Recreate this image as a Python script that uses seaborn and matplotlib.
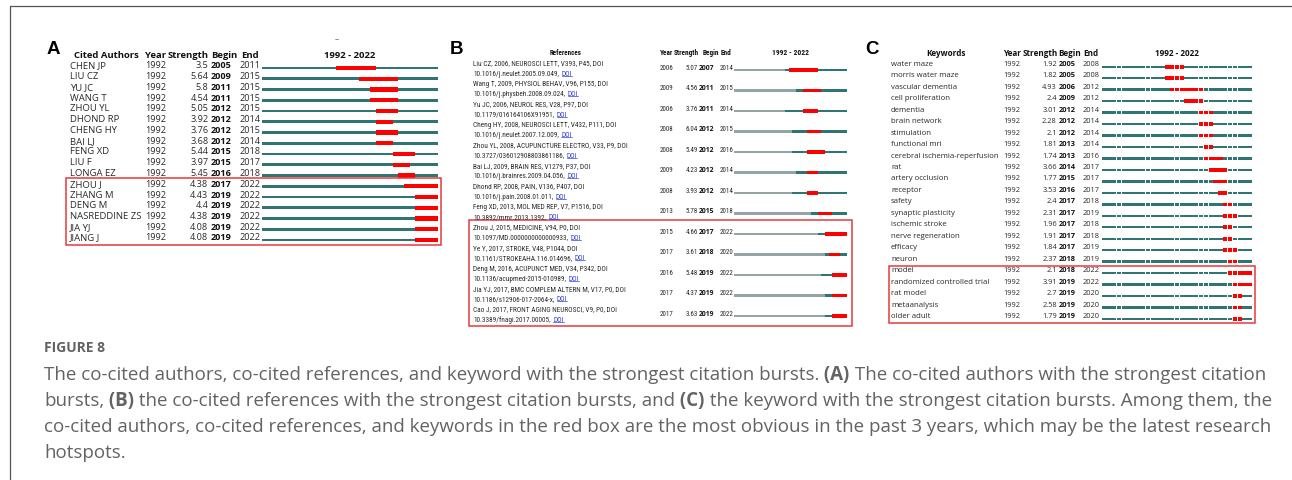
import numpy as np
import pandas as pd
import seaborn as sns
import matplotlib
matplotlib.use("Agg")
import matplotlib.pyplot as plt
from matplotlib.lines import Line2D
from matplotlib.patches import Rectangle
import matplotlib.font_manager as fm

# ---------------- data ----------------
authors = ["CHEN JP", "LIU CZ", "YU JC", "WANG T", "ZHOU YL", "DHOND RP", "CHENG HY",
           "BAI LJ", "FENG XD", "LIU F", "LONGA EZ", "ZHOU J", "ZHANG M", "DENG M",
           "NASREDDINE ZS", "JIA YJ", "JIANG J"]
a_year = [1992] * 17
a_strength = [3.5, 5.64, 5.8, 4.54, 5.05, 3.92, 3.76, 3.68, 5.44, 3.97, 5.45,
              4.38, 4.43, 4.4, 4.38, 4.08, 4.08]
a_begin = [2005, 2009, 2011, 2011, 2012, 2012, 2012, 2012, 2015, 2015, 2016,
           2017, 2019, 2019, 2019, 2019, 2019]
a_end = [2011, 2015, 2015, 2015, 2015, 2014, 2015, 2014, 2018, 2017, 2018,
         2022, 2022, 2022, 2022, 2022, 2022]

ref_line1 = ["Liu CZ, 2006, NEUROSCI LETT, V393, P45, DOI",
             "Wang T, 2009, PHYSIOL BEHAV, V96, P155, DOI",
             "Yu JC, 2006, NEUROL RES, V28, P97, DOI",
             "Cheng HY, 2008, NEUROSCI LETT, V432, P111, DOI",
             "Zhou YL, 2008, ACUPUNCTURE ELECTRO, V33, P9, DOI",
             "Bai LJ, 2009, BRAIN RES, V1279, P37, DOI",
             "Dhond RP, 2008, PAIN, V136, P407, DOI",
             "Feng XD, 2013, MOL MED REP, V7, P1516, DOI",
             "Zhou J, 2015, MEDICINE, V94, P0, DOI",
             "Ye Y, 2017, STROKE, V48, P1044, DOI",
             "Deng M, 2016, ACUPUNCT MED, V34, P342, DOI",
             "Jia YJ, 2017, BMC COMPLEM ALTERN M, V17, P0, DOI",
             "Cao J, 2017, FRONT AGING NEUROSCI, V9, P0, DOI"]
ref_line2 = ["10.1016/j.neulet.2005.09.049,",
             "10.1016/j.physbeh.2008.09.024,",
             "10.1179/016164106X91951,",
             "10.1016/j.neulet.2007.12.009,",
             "10.3727/036012908803861186,",
             "10.1016/j.brainres.2009.04.056,",
             "10.1016/j.pain.2008.01.011,",
             "10.3892/mmr.2013.1392,",
             "10.1097/MD.0000000000000933,",
             "10.1161/STROKEAHA.116.014696,",
             "10.1136/acupmed-2015-010989,",
             "10.1186/s12906-017-2064-x,",
             "10.3389/fnagi.2017.00005,"]
b_year = [2006, 2009, 2006, 2008, 2008, 2009, 2008, 2013, 2015, 2017, 2016, 2017, 2017]
b_strength = [5.07, 4.56, 3.76, 6.04, 5.49, 4.23, 3.93, 5.78, 4.66, 3.61, 5.48, 4.37, 3.63]
b_begin = [2007, 2011, 2011, 2012, 2012, 2012, 2012, 2015, 2017, 2018, 2019, 2019, 2019]
b_end = [2014, 2015, 2014, 2015, 2016, 2014, 2014, 2018, 2022, 2020, 2022, 2022, 2022]

keywords = ["water maze", "morris water maze", "vascular dementia", "cell proliferation",
            "dementia", "brain network", "stimulation", "functional mri",
            "cerebral ischemia-reperfusion", "rat", "artery occlusion", "receptor",
            "safety", "synaptic plasticity", "ischemic stroke", "nerve regeneration",
            "efficacy", "neuron", "model", "randomized controlled trial", "rat model",
            "metaanalysis", "older adult"]
c_year = [1992] * 23
c_strength = [1.92, 1.82, 4.93, 2.4, 3.01, 2.28, 2.1, 1.81, 1.74, 3.66, 1.77, 3.53,
              2.4, 2.31, 1.96, 1.91, 1.84, 2.37, 2.1, 3.91, 2.7, 2.58, 1.79]
c_begin = [2005, 2005, 2006, 2009, 2012, 2012, 2012, 2013, 2013, 2014, 2015, 2016,
           2017, 2017, 2017, 2017, 2017, 2018, 2018, 2019, 2019, 2019, 2019]
c_end = [2008, 2008, 2012, 2012, 2014, 2014, 2014, 2014, 2016, 2017, 2017, 2017,
         2018, 2019, 2018, 2018, 2019, 2019, 2022, 2022, 2020, 2020, 2020]

span_start, span_end = 1992, 2022
header_cols = ["Year", "Strength", "Begin", "End"]
span_label = "1992 - 2022"

caption_title = "FIGURE 8"
caption_lines = [
    [("The co-cited authors, co-cited references, and keyword with the strongest citation bursts.", False),
     (" (A)", True), (" The co-cited authors with the strongest citation", False)],
    [("bursts,", False), (" (B)", True),
     (" the co-cited references with the strongest citation bursts, and", False),
     (" (C)", True), (" the keyword with the strongest citation bursts. Among them, the", False)],
    [("co-cited authors, co-cited references, and keywords in the red box are the most obvious in the past 3 years, which may be the latest research", False)],
    [("hotspots.", False)],
]

# ---------------- style ----------------
sns.set_theme(style="white")
plt.rcParams["font.family"] = ["Open Sans", "DejaVu Sans"]
names = {f.name for f in fm.fontManager.ttflist}
NARROW = next((n for n in ["Liberation Sans Narrow", "Roboto Condensed",
                           "DejaVu Sans Condensed", "Roboto"] if n in names), "DejaVu Sans")

TEAL = "#2e7573"
GRAY = "#94a5a5"
RED = "#ff0000"
BOX = "#e8383d"
TXT = "#2a2a2a"

W, H = 1292, 481
fig = plt.figure(figsize=(W / 100, H / 100), dpi=100)
fig.patch.set_facecolor("white")


def X(px):
    return px / W


def Y(py):
    return 1 - py / H


def bar_axes(x0, x1, y0, dy, n):
    top = y0 - dy
    bottom = y0 + n * dy
    ax = fig.add_axes([X(x0), Y(bottom), (x1 - x0) / W, (bottom - top) / H])
    ax.set_xlim(span_start, span_end + 1)
    ax.set_ylim(n, -1)
    ax.axis("off")
    return ax


def fmt(v):
    return f"{v:g}"


def txt(x, y, s, size, bold=False, ha="left", va="center", color=TXT, family=None, **kw):
    return fig.text(X(x), Y(y), s, fontsize=size, fontweight="bold" if bold else "normal",
                    ha=ha, va=va, color=color,
                    family=family if family else ["Open Sans", "DejaVu Sans"], **kw)


# frame
fig.add_artist(Line2D([X(10), X(1292)], [Y(7), Y(7)], color="#555555", lw=0.9,
                      transform=fig.transFigure))
fig.add_artist(Line2D([X(10), X(10)], [Y(7), Y(481)], color="#555555", lw=0.9,
                      transform=fig.transFigure))

# panel letters
for lab, x in [("A", 47), ("B", 450), ("C", 865)]:
    txt(x, 50, lab, 13.5, bold=True, color="black", family=["Liberation Sans", "DejaVu Sans"])
txt(335, 40, "–", 6, color="#333333")

# ---------------- Panel A ----------------
nA = len(authors)
dyA, lineA = 10.75, 69.0
axA = bar_axes(262, 438, lineA, dyA, nA)
iA = np.arange(nA)
axA.barh(iA, span_end + 1 - np.array(a_year), left=a_year, height=2.6 / dyA, color=TEAL, lw=0)
axA.barh(iA, np.array(a_end) + 1 - np.array(a_begin), left=a_begin, height=4.2 / dyA,
         color=RED, lw=0, zorder=3)
SA = 6.8
hy = 55
txt(74.3, hy, "Cited Authors", SA, bold=True, color="#111")
for s, x in zip(header_cols, [145, 167.7, 211, 240.7]):
    txt(x, hy, s, SA, bold=True, color="#111")
txt(350, hy, span_label, SA, bold=True, ha="center", color="#111")
for i in range(nA):
    yc = lineA + i * dyA - 3
    txt(70, yc, authors[i], SA)
    txt(145, yc, str(a_year[i]), SA - 0.2)
    txt(208.3, yc, fmt(a_strength[i]), SA - 0.2, ha="right")
    txt(210.3, yc, str(a_begin[i]), SA - 0.2, bold=True, color="#111")
    txt(239, yc, str(a_end[i]), SA - 0.2)
fig.add_artist(Rectangle((X(66), Y(246)), X(441) - X(66), Y(179) - Y(246), fill=False,
                         ec=BOX, lw=1.1, transform=fig.transFigure))

# ---------------- Panel B ----------------
nB = len(ref_line1)
dyB, lineB = 20.5, 71.0
axB = bar_axes(734, 847, lineB, dyB, nB)
iB = np.arange(nB)
axB.barh(iB, np.array(b_year) - span_start, left=span_start, height=2.3 / dyB, color=GRAY, lw=0)
axB.barh(iB, span_end + 1 - np.array(b_year), left=b_year, height=2.3 / dyB, color=TEAL, lw=0)
axB.barh(iB, np.array(b_end) + 1 - np.array(b_begin), left=b_begin, height=3.6 / dyB,
         color=RED, lw=0, zorder=3)
SB = 5.2
hy = 52.7
txt(566, hy, "References", 5.0, bold=True, ha="center", family=NARROW, color="#111")
for s, x in zip(header_cols, [660, 673.5, 702.3, 721]):
    txt(x, hy, s, 5.2, bold=True, family=NARROW, color="#111")
txt(791, hy, span_label, 5.4, bold=True, ha="center", family=NARROW, color="#111")

fig.canvas.draw()
renderer = fig.canvas.get_renderer()
for i in range(nB):
    yl = lineB + i * dyB
    txt(473.3, yl - 5.4, ref_line1[i], SB, va="baseline", family=NARROW)
    t2 = txt(473.3, yl + 4.6, ref_line2[i], SB, va="baseline", family=NARROW)
    w2 = t2.get_window_extent(renderer).width
    xd = 473.3 + w2 + 2.4
    td = txt(xd, yl + 4.6, "DOI", SB, va="baseline", family=NARROW, color="#2b3fd6")
    wd = td.get_window_extent(renderer).width
    fig.add_artist(Line2D([X(xd), X(xd + wd)], [Y(yl + 5.6), Y(yl + 5.6)], color="#2b3fd6",
                          lw=0.5, transform=fig.transFigure))
    yc = yl - 2.7
    txt(659.5, yc, str(b_year[i]), 5.0, family=NARROW)
    txt(697.8, yc, fmt(b_strength[i]), 5.0, ha="right", family=NARROW)
    txt(699, yc, str(b_begin[i]), 4.9, bold=True, color="#111")
    txt(719.5, yc, str(b_end[i]), 5.0, family=NARROW)
fig.add_artist(Rectangle((X(469), Y(327)), X(852) - X(469), Y(221) - Y(327), fill=False,
                         ec=BOX, lw=1.1, transform=fig.transFigure))

# ---------------- Panel C ----------------
nC = len(keywords)
dyC, lineC = 11.47, 67.7
axC = bar_axes(1102.3, 1252, lineC, dyC, nC)
years = np.arange(span_start, span_end + 1)
gap = 0.08
for i in range(nC):
    axC.barh(np.full(len(years), i), 1 - gap, left=years, height=2.4 / dyC, color=TEAL, lw=0)
    ry = np.arange(c_begin[i], c_end[i] + 1)
    axC.barh(np.full(len(ry), i), 1 - gap, left=ry, height=3.6 / dyC, color=RED, lw=0, zorder=3)
SC = 5.6
hy = 53.3
txt(946, hy, "Keywords", 5.9, bold=True, ha="center", color="#111")
for s, x in zip(header_cols, [1003.3, 1022.3, 1058.3, 1083.3]):
    txt(x, hy, s, 5.9, bold=True, color="#111")
txt(1176.7, hy, span_label, 5.9, bold=True, ha="center", color="#111")
for i in range(nC):
    yc = lineC + i * dyC - 3.4
    txt(891, yc, keywords[i], SC)
    txt(1003.3, yc, str(c_year[i]), SC - 0.3)
    txt(1056.8, yc, fmt(c_strength[i]), SC - 0.3, ha="right")
    txt(1058.3, yc, str(c_begin[i]), SC - 0.3, bold=True, color="#111")
    txt(1082.3, yc, str(c_end[i]), SC - 0.3)
fig.add_artist(Rectangle((X(889), Y(324)), X(1255) - X(889), Y(267) - Y(324), fill=False,
                         ec=BOX, lw=1.1, transform=fig.transFigure))

# ---------------- caption ----------------
CAP = "#636363"
txt(44, 348, caption_title, 10, bold=True, color=CAP)
for k, parts in enumerate(caption_lines):
    x = 44.0
    yb = 380 + k * 26
    for s, bold in parts:
        t = txt(x, yb, s, 13.5, bold=bold, va="baseline", color=CAP)
        x += t.get_window_extent(renderer).width

fig.savefig("out.png", dpi=100, facecolor="white")
